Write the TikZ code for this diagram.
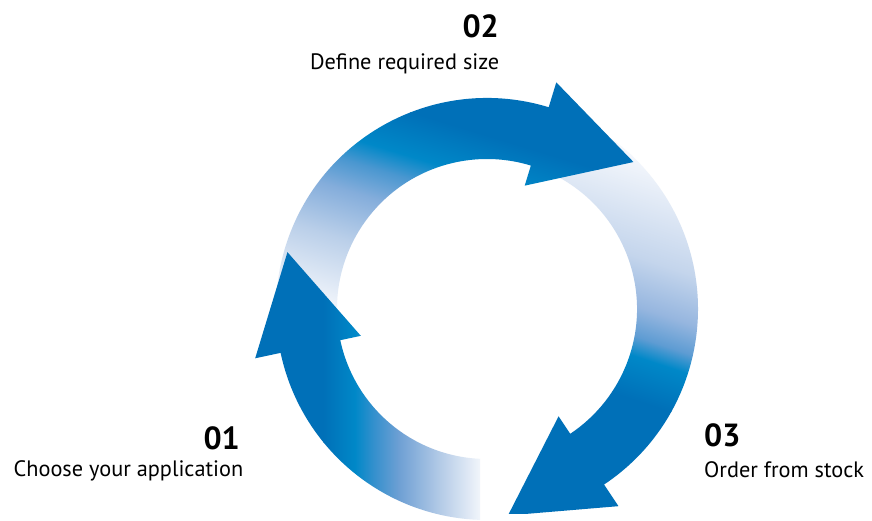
\documentclass[tikz,border=0pt]{standalone}
\usepackage{fontspec}
\setmainfont{PT Sans}
\definecolor{dk}{HTML}{0070B8}
\definecolor{cy}{HTML}{0088C8}
\definecolor{wt}{HTML}{F4F7FC}
\definecolor{a1}{HTML}{B4CBE7}
\definecolor{a2}{HTML}{6FA0D4}
\definecolor{a3}{HTML}{3590CD}
\definecolor{b1}{HTML}{BACFE9}
\definecolor{b2}{HTML}{84ADDB}
\definecolor{b3}{HTML}{4A97D0}
\definecolor{c1}{HTML}{C4D5EC}
\definecolor{c2}{HTML}{96B6DF}
\definecolor{c3}{HTML}{5E9CD3}
\pgfdeclarehorizontalshading{gradA}{100bp}{color(0bp)=(wt); color(25bp)=(wt); color(38.2bp)=(a1); color(51bp)=(a2); color(59bp)=(a3); color(65bp)=(cy); color(75bp)=(dk); color(100bp)=(dk)}
\pgfdeclarehorizontalshading{gradB}{100bp}{color(0bp)=(wt); color(25bp)=(wt); color(41.8bp)=(b1); color(53bp)=(b2); color(59.8bp)=(b3); color(65bp)=(cy); color(75bp)=(dk); color(100bp)=(dk)}
\pgfdeclarehorizontalshading{gradC}{100bp}{color(0bp)=(wt); color(25bp)=(wt); color(45.5bp)=(c1); color(55.7bp)=(c2); color(61.9bp)=(c3); color(66bp)=(cy); color(75bp)=(dk); color(100bp)=(dk)}
% ring arrow: #1 inner tail angle, #2 outer tail angle, #3 head base angle
\newcommand\ringarrow[3]{(#1:150) arc[start angle=#1, end angle=#3, radius=150] -- (#3:129) -- ({#3-27.9}:207.5) -- (#3:237) -- (#3:211) arc[start angle=#3, end angle=#2, radius=211] -- cycle}
% gradient fill: #1 start point, #2 axis angle, #3 shading, #4 length
\newcommand\gradfill[4]{%
  \begin{scope}[transform canvas={shift={#1}, rotate=#2}]
    \fill[wt] (-700,-700) rectangle (1,700);
    \fill[dk] (#4-1,-700) rectangle (1000,700);
    \shade[shading=#3] (0,-700) rectangle (#4,700);
  \end{scope}}
\tikzset{
  numtext/.style={inner sep=0pt, font=\fontsize{32}{36}\selectfont\bfseries},
  labtext/.style={inner sep=0pt, font=\fontsize{22.3}{26}\selectfont}
}
\begin{document}
\begin{tikzpicture}[x=1pt, y=1pt]
\fill[white] (0,0) rectangle (872,-521);
\useasboundingbox (0,0) rectangle (872,-521);
% arrow 3 (right, head at bottom)
\begin{scope}
  \clip (0,-513) rectangle (872,0);
  \clip[shift={(487,-309)}] \ringarrow{70}{70}{-56.3};
  \gradfill{(710,-180.7)}{251.6}{gradC}{231.8}
\end{scope}
% arrow 2 (top)
\begin{scope}
  \clip[shift={(487,-309)}] \ringarrow{190}{190}{73};
  \gradfill{(350.3,-315.6)}{73}{gradB}{212.5}
\end{scope}
% arrow 1 (left, tail at bottom)
\begin{scope}
  \clip[shift={(487,-309)}] \ringarrow{267.33}{268.11}{192};
  \gradfill{(482,-309)}{180}{gradA}{158.75}
\end{scope}
% labels
\node[numtext, anchor=base east] (n02) at (499,-37.3) {02};
\node[labtext, anchor=base east] (l02) at (499.5,-70) {Define required size};
\node[numtext, anchor=base east] (n01) at (240,-449) {01};
\node[labtext, anchor=base east] (l01) at (243.5,-476.5) {Choose your application};
\node[numtext, anchor=base west] (n03) at (704,-446.7) {03};
\node[labtext, anchor=base west] (l03) at (704,-477) {Order from stock};
\end{tikzpicture}
\end{document}
